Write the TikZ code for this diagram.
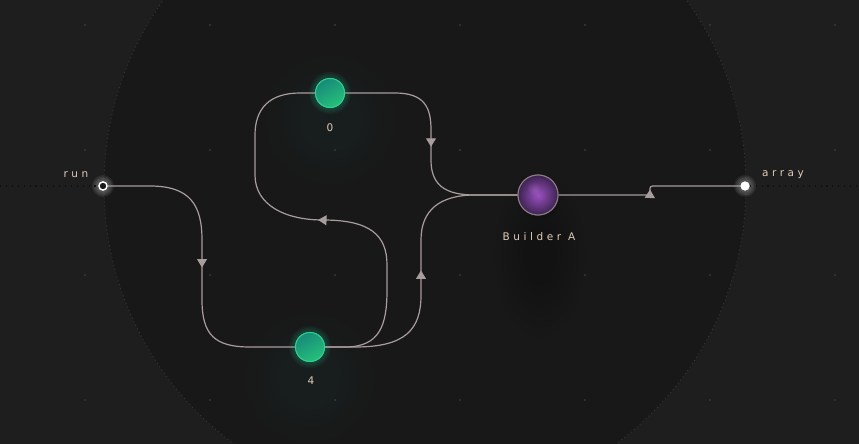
\documentclass[tikz,border=0pt]{standalone}
\usepackage{fontspec}
\setmainfont{DejaVu Sans}
\newfontfamily\lblfont[LetterSpace=34]{DejaVu Sans}
\usetikzlibrary{arrows.meta,decorations.markings,shadings}
\definecolor{bgout}{HTML}{1E1E1E}
\definecolor{bgin}{HTML}{181818}
\definecolor{edgec}{HTML}{A89C9C}
\definecolor{lblc}{HTML}{E0CCB8}
\definecolor{dotc}{HTML}{383838}
\definecolor{greenA}{HTML}{178A78}
\definecolor{greenB}{HTML}{27C07C}
\definecolor{greenE}{HTML}{2FD393}
\definecolor{glowc}{HTML}{1FB58A}
\definecolor{purpA}{HTML}{9C50C2}
\definecolor{purpB}{HTML}{3C2450}
\definecolor{purpE}{HTML}{8E7C88}
\begin{document}
\begin{tikzpicture}[x=1pt,y=-1pt,
  edge/.style={draw=edgec, line width=1.2pt},
  midarrow/.style={postaction={decorate}, decoration={markings,
     mark=at position #1 with {\arrow[edgec]{Triangle[width=10pt,length=8.5pt]}}}},
  gnode/.style={circle, minimum size=29pt, inner sep=0pt, draw=greenE, line width=0.9pt,
     top color=greenA, bottom color=greenB, shading angle=30},
  bnode/.style={circle, minimum size=40pt, inner sep=0pt, draw=purpE, line width=1pt,
     inner color=purpA, outer color=purpB},
  portin/.style={circle, minimum size=8pt, inner sep=0pt, draw=white, line width=1.3pt, fill=bgin},
  portout/.style={circle, minimum size=9pt, inner sep=0pt, fill=white},
  lbl/.style={text=lblc, font=\lblfont\fontsize{10.5}{12}\selectfont, inner sep=0pt},
  dotline/.style={draw=dotc!120, line width=1.1pt, dash pattern=on 1.1pt off 4.8pt},
]
\useasboundingbox (0,0) rectangle (859,444);
\fill[bgout] (0,0) rectangle (859,444);
\fill[bgin] (425,186) circle (321);
\draw[dotc, line width=0.8pt, dash pattern=on 1pt off 3pt] (425,186) circle (321);
% grid dots
\foreach \gx in {85,210,335,460,585,710,835}
  \foreach \gy in {25,150,275,400}
    \fill[dotc] (\gx,\gy) circle (1.2);
% halos
\foreach \r in {24,32,...,64} {
  \fill[glowc, opacity=0.012] (330,120) circle (\r);
  \fill[glowc, opacity=0.012] (310,378) circle (\r);
  \fill[black, opacity=0.009] (540,255) ellipse (\r*0.7 and \r*1.3);
}
\foreach \r in {15,16.5,...,21} {
  \fill[glowc, opacity=0.07] (330,93) circle (\r);
  \fill[glowc, opacity=0.07] (310,347) circle (\r);
  \fill[black, opacity=0.04] (540,199) circle (\r);
}
\foreach \r in {5,6.5,...,11} {
  \fill[white, opacity=0.07] (103,186) circle (\r);
  \fill[white, opacity=0.07] (745,186) circle (\r);
}
% nodes
\node[portin] (run) at (103,186) {};
\node[portout] (arr) at (745,186) {};
\node[gnode] (n0) at (330,93) {};
\node[gnode] (n4) at (310,347) {};
\node[bnode] (B) at (538,195) {};
% labels
\node[lbl] (runl) at (76,175) {run};
\node[lbl] (arrl) at (783,175) {array};
\node[lbl] (n0l) at (330,128) {0};
\node[lbl] (n4l) at (311,381) {4};
\node[lbl] (Bl) at (539,237) {Builder A};
% dotted boundary lines
\coordinate (lend) at (0,186);
\coordinate (rend) at (859,186);
\draw[dotline] (lend) -- (run.west);
\draw[dotline] (arr.east) -- (rend);
% edges
\draw[edge, midarrow=157pt] (run) -- (150,186) .. controls (190,186) and (202,205) .. (202,240)
   -- (202,300) .. controls (202,335) and (215,347) .. (250,347) -- (n4);
\draw[edge, midarrow=222pt] (n4) -- (345,347) .. controls (380,347) and (387,325) .. (387,290)
   -- (387,265) .. controls (387,235) and (370,220) .. (323,220)
   .. controls (285,220) and (255,205) .. (255,175) -- (255,135)
   .. controls (255,108) and (270,93) .. (300,93) -- (n0);
\draw[edge, midarrow=127pt] (n0) -- (395,93) .. controls (425,93) and (431,108) .. (431,130)
   -- (431,160) .. controls (431,185) and (445,195) .. (475,195) -- (B);
\draw[edge, midarrow=152pt] (n4) -- (355,347) .. controls (405,347) and (421,330) .. (421,295)
   -- (421,240) .. controls (421,210) and (440,195) .. (475,195) -- (B);
\draw[edge, midarrow=97pt] (B) -- (650,195) -- (650,191) .. controls (650,186) .. (656,186) -- (arr);
% redraw nodes on top
\node[portin] at (103,186) {};
\node[portout] at (745,186) {};
\node[gnode] at (330,93) {};
\node[gnode] at (310,347) {};
\node[bnode] at (538,195) {};
\shade[inner color=white, outer color=purpA, opacity=0.10] (534,189) circle (6);
\end{tikzpicture}
\end{document}
